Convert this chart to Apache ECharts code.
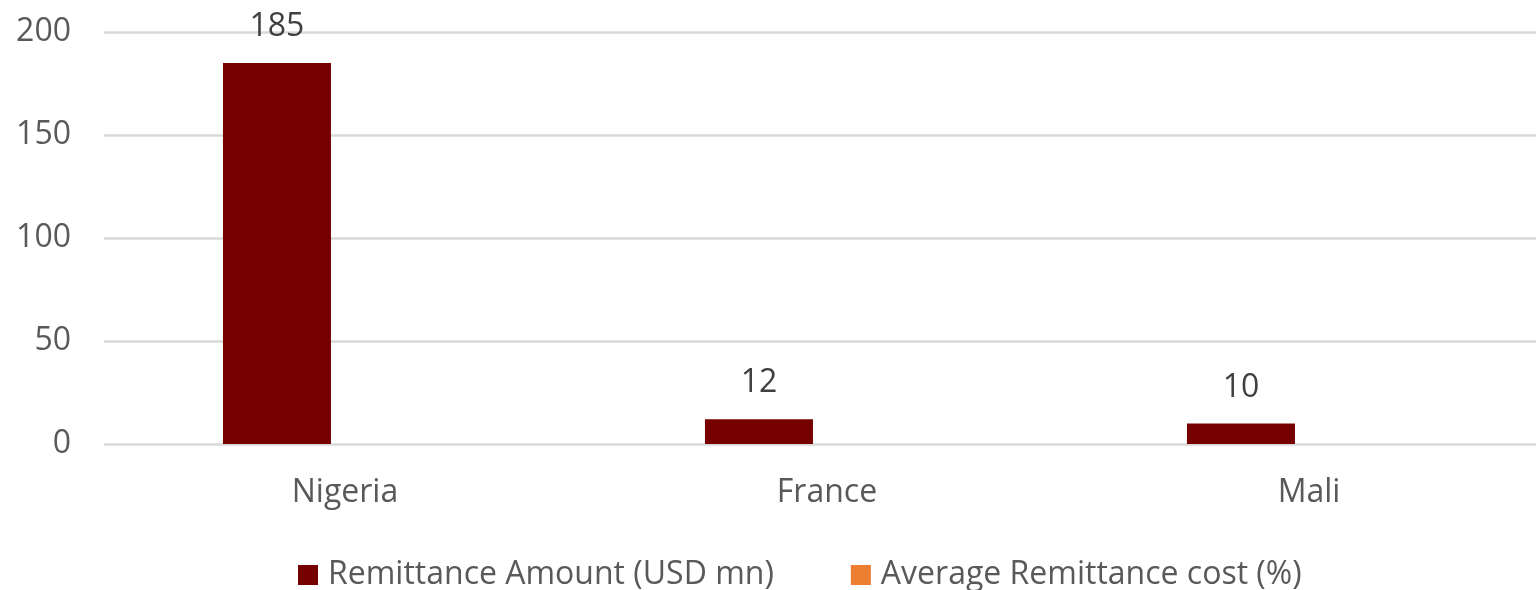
<!DOCTYPE html>
<html><head><meta charset="utf-8">
<script src="https://cdn.jsdelivr.net/npm/echarts@6/dist/echarts.min.js"></script>
<style>html,body{margin:0;padding:0;background:#fff}#c{width:1536px;height:590px}</style>
</head><body><div id="c"></div>
<script>
var categories = ['Nigeria', 'France', 'Mali'];
var remittanceAmount = [185, 12, 10];
var averageCost = [null, null, null];
var yTicks = {min: 0, max: 200, interval: 50};

var chart = echarts.init(document.getElementById('c'));
var font = '"Open Sans", "Liberation Sans", sans-serif';
chart.setOption({
  animation: false,
  grid: {left: 104, right: -14, top: 32, bottom: 146, containLabel: false, outerBoundsMode: 'none'},
  legend: {
    left: 298, top: 559, padding: 0,
    itemWidth: 20, itemHeight: 20, itemGap: 77,
    icon: 'rect',
    textStyle: {fontFamily: font, fontSize: 32, color: '#595959', padding: [0, 0, 0, 5]},
    data: ['Remittance Amount (USD mn)', 'Average Remittance cost (%)']
  },
  xAxis: {
    type: 'category', data: categories,
    axisLine: {show: false}, axisTick: {show: false},
    axisLabel: {fontFamily: font, fontSize: 32, color: '#595959', margin: 33}
  },
  yAxis: {
    type: 'value', min: yTicks.min, max: yTicks.max, interval: yTicks.interval,
    axisLine: {show: false}, axisTick: {show: false},
    axisLabel: {fontFamily: font, fontSize: 32, color: '#595959', margin: 33},
    splitLine: {lineStyle: {color: '#d9d9d9', width: 2.5}}
  },
  series: [
    {
      name: 'Remittance Amount (USD mn)', type: 'bar', data: remittanceAmount,
      barWidth: 108, barGap: '26%',
      itemStyle: {color: '#760000'},
      label: {show: true, position: 'top', distance: 20, fontFamily: font, fontSize: 32, color: '#404040'}
    },
    {
      name: 'Average Remittance cost (%)', type: 'bar', data: averageCost,
      barWidth: 108,
      itemStyle: {color: '#ED7D31'}
    }
  ]
});
</script></body></html>
